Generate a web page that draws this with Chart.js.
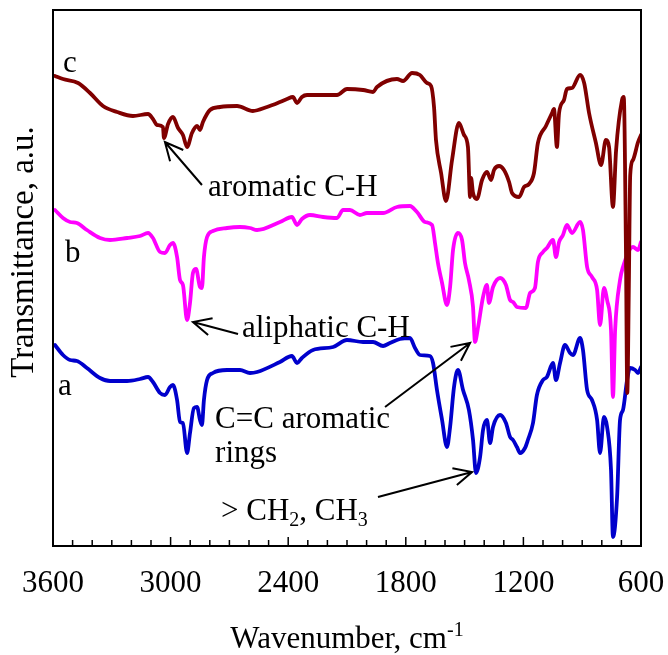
<!DOCTYPE html>
<html>
<head>
<meta charset="utf-8">
<script src="https://cdn.jsdelivr.net/npm/chart.js@4.4.0/dist/chart.umd.min.js"></script>
<style>
  html, body { margin: 0; padding: 0; background: #fff; }
</style>
</head>
<body>
<canvas id="ftir" width="668" height="655"></canvas>
<script>
// FTIR spectra: wavenumber (cm-1) and transmittance (a.u., offset per curve)
const wnC = [3590, 3549, 3472, 3411, 3345, 3273, 3192, 3115, 3090, 3069, 3039, 3034, 3013, 2988, 2962, 2937, 2916, 2891, 2865, 2850,
  2835, 2799, 2748, 2661, 2580, 2508, 2442, 2406, 2376, 2355, 2330, 2304, 2151, 2100, 2018, 1967, 1947, 1845, 1814, 1768,
  1728, 1692, 1671, 1656, 1646, 1620, 1595, 1564, 1529, 1503, 1483, 1472, 1467, 1457, 1437, 1411, 1386, 1365, 1350, 1324,
  1299, 1273, 1258, 1222, 1197, 1171, 1146, 1126, 1085, 1054, 1044, 1029, 1018, 993, 978, 952, 911, 890, 865, 830,
  804, 779, 763, 743, 727, 697, 688, 677, 670, 662, 655, 641, 615, 600];
const tC = [470, 467, 463, 453, 440, 434, 430, 432, 427, 421, 419, 408, 422, 429, 418, 411, 399, 413, 420, 416,
  424, 436, 439, 440, 435, 439, 444, 447, 449, 443, 449, 451, 451, 457, 456, 454, 459, 467, 465, 473,
  471, 463, 460, 439, 406, 373, 345, 386, 423, 411, 399, 349, 368, 353, 347, 366, 374, 366, 376, 380,
  376, 364, 353, 349, 359, 362, 373, 403, 420, 433, 437, 399, 433, 446, 457, 458, 471, 463, 433, 403,
  381, 406, 399, 339, 396, 446, 449, 300, 153, 260, 371, 386, 404, 411];

const wnB = [3590, 3549, 3513, 3478, 3427, 3360, 3309, 3222, 3156, 3115, 3090, 3054, 3029, 3003, 2988, 2967, 2952, 2937, 2916, 2901,
  2886, 2870, 2850, 2840, 2830, 2814, 2784, 2712, 2646, 2595, 2559, 2442, 2381, 2355, 2330, 2289, 2222, 2151, 2120, 2085,
  2034, 1998, 1916, 1845, 1779, 1743, 1702, 1666, 1651, 1636, 1615, 1590, 1574, 1559, 1534, 1513, 1498, 1478, 1457, 1447,
  1432, 1406, 1386, 1376, 1355, 1319, 1289, 1268, 1253, 1233, 1187, 1166, 1141, 1126, 1100, 1080, 1049, 1034, 1018, 998,
  978, 952, 911, 896, 875, 850, 824, 809, 789, 773, 753, 743, 732, 707, 692, 641, 615, 600];
const tB = [336, 328, 324, 323, 316, 308, 306, 308, 310, 313, 308, 294, 293, 301, 303, 289, 266, 261, 226, 243,
  273, 277, 259, 258, 289, 309, 315, 318, 319, 318, 316, 324, 329, 321, 327, 331, 329, 328, 336, 336,
  331, 333, 333, 339, 340, 334, 324, 321, 303, 283, 263, 241, 259, 296, 313, 306, 283, 266, 239, 204,
  218, 249, 261, 243, 259, 268, 261, 246, 244, 239, 238, 253, 258, 284, 294, 298, 306, 289, 304, 311,
  321, 313, 324, 316, 279, 269, 256, 221, 258, 246, 216, 149, 216, 266, 279, 299, 296, 304];

const wnA = [3590, 3549, 3513, 3478, 3427, 3360, 3309, 3222, 3156, 3115, 3090, 3054, 3029, 3003, 2988, 2967, 2952, 2937, 2916, 2901,
  2881, 2865, 2850, 2840, 2830, 2814, 2784, 2712, 2646, 2595, 2559, 2442, 2381, 2355, 2330, 2273, 2171, 2100, 2018, 1967,
  1916, 1881, 1830, 1779, 1753, 1728, 1677, 1661, 1641, 1615, 1590, 1574, 1554, 1534, 1508, 1478, 1457, 1442, 1421, 1406,
  1386, 1370, 1355, 1319, 1289, 1268, 1253, 1233, 1217, 1192, 1177, 1151, 1131, 1100, 1080, 1049, 1034, 1013, 988, 962,
  947, 911, 896, 875, 850, 824, 809, 789, 773, 753, 743, 722, 707, 692, 671, 656, 630, 615, 600];
const tA = [201, 191, 186, 185, 178, 168, 165, 165, 167, 169, 164, 153, 151, 159, 161, 146, 124, 123, 93, 113,
  138, 139, 126, 121, 146, 166, 173, 176, 176, 173, 174, 184, 190, 183, 188, 196, 199, 206, 204, 204,
  200, 203, 207, 208, 198, 191, 190, 183, 156, 126, 99, 119, 159, 176, 156, 136, 106, 73, 89, 116,
  126, 103, 119, 131, 123, 109, 106, 99, 93, 98, 106, 123, 151, 166, 169, 183, 166, 183, 201, 193,
  191, 208, 196, 156, 146, 126, 93, 129, 119, 76, 9, 49, 126, 136, 166, 178, 176, 173, 179];

const xTicks = [3600, 3000, 2400, 1800, 1200, 600];

const FONT = "'Liberation Serif', 'Times New Roman', serif";
const toPoints = (xs, ys) => xs.map((x, i) => ({ x: x, y: ys[i] }));

// annotations in data coordinates (wavenumber, transmittance)
const curveLabels = [
    { text: 'c', x: 3549, y: 474 },
    { text: 'b', x: 3539, y: 284 },
    { text: 'a', x: 3574, y: 151 }
];
const arrows = [
    { from: [2840, 361], to: [3029, 404] },
    { from: [2656, 212], to: [2886, 224] },
    { from: [1906, 139], to: [1472, 203] },
    { from: [1942, 49], to: [1462, 74] }
];

function drawArrow(ctx, x1, y1, x2, y2) {
    const ang = Math.atan2(y2 - y1, x2 - x1);
    const len = 20, spread = 0.45;
    ctx.beginPath();
    ctx.moveTo(x1, y1);
    ctx.lineTo(x2, y2);
    ctx.moveTo(x2 - len * Math.cos(ang - spread), y2 - len * Math.sin(ang - spread));
    ctx.lineTo(x2, y2);
    ctx.lineTo(x2 - len * Math.cos(ang + spread), y2 - len * Math.sin(ang + spread));
    ctx.stroke();
}

// draws pieces like ['> CH', {sub: '2'}, ', CH', {sub: '3'}]
function drawRich(ctx, parts, x, y, size) {
    parts.forEach(p => {
        if (typeof p === 'string') {
            ctx.font = size + 'px ' + FONT;
            ctx.fillText(p, x, y);
            x += ctx.measureText(p).width;
        } else {
            const s = Math.round(size * 0.65);
            ctx.font = s + 'px ' + FONT;
            const dy = p.sub ? size * 0.2 : -size * 0.4;
            const t = p.sub || p.sup;
            ctx.fillText(t, x, y + dy);
            x += ctx.measureText(t).width;
        }
    });
}

function richWidth(ctx, parts, size) {
    let w = 0;
    parts.forEach(p => {
        if (typeof p === 'string') {
            ctx.font = size + 'px ' + FONT;
            w += ctx.measureText(p).width;
        } else {
            ctx.font = Math.round(size * 0.65) + 'px ' + FONT;
            w += ctx.measureText(p.sub || p.sup).width;
        }
    });
    return w;
}

const decorations = {
    id: 'decorations',
    afterDraw(chart) {
        const { ctx, chartArea: area, scales: { x, y } } = chart;
        const px = v => x.getPixelForValue(v);
        const py = v => y.getPixelForValue(v);
        ctx.save();
        ctx.strokeStyle = '#000';
        ctx.fillStyle = '#000';

        // frame
        ctx.lineWidth = 2;
        ctx.strokeRect(area.left, area.top, area.right - area.left, area.bottom - area.top);

        // inward ticks every 100 cm-1
        ctx.lineWidth = 1.5;
        for (let v = 600; v <= 3600; v += 100) {
            const len = v % 600 === 0 ? 9 : 6;
            ctx.beginPath();
            ctx.moveTo(px(v), area.bottom);
            ctx.lineTo(px(v), area.bottom - len);
            ctx.stroke();
        }

        // curve letters
        ctx.textBaseline = 'alphabetic';
        ctx.textAlign = 'left';
        ctx.font = '31px ' + FONT;
        curveLabels.forEach(l => ctx.fillText(l.text, px(l.x), py(l.y)));

        // band assignments
        ctx.fillText('aromatic C-H', px(2809), py(350));
        ctx.fillText('aliphatic C-H', px(2636), py(209));
        ctx.fillText('C=C aromatic', px(2773), py(118));
        ctx.fillText('rings', px(2773), py(84));
        drawRich(ctx, ['> CH', { sub: '2' }, ', CH', { sub: '3' }], px(2743), py(26), 31);

        ctx.lineWidth = 2;
        arrows.forEach(a => drawArrow(ctx, px(a.from[0]), py(a.from[1]), px(a.to[0]), py(a.to[1])));

        // axis titles
        const xTitle = ['Wavenumber, cm', { sup: '-1' }];
        const w = richWidth(ctx, xTitle, 31);
        drawRich(ctx, xTitle, (area.left + area.right) / 2 - w / 2, 648, 31);

        ctx.translate(24, 252);
        ctx.rotate(-Math.PI / 2);
        ctx.textAlign = 'center';
        ctx.textBaseline = 'middle';
        ctx.font = '33px ' + FONT;
        ctx.fillText('Transmittance, a.u.', 0, 0);
        ctx.restore();
    }
};

new Chart(document.getElementById('ftir'), {
    type: 'line',
    data: {
        datasets: [
            { label: 'c', data: toPoints(wnC, tC), borderColor: '#800000' },
            { label: 'b', data: toPoints(wnB, tB), borderColor: '#ff00ff' },
            { label: 'a', data: toPoints(wnA, tA), borderColor: '#0000cc' }
        ]
    },
    options: {
        responsive: false,
        animation: false,
        datasets: {
            line: {
                borderWidth: 3.8,
                pointRadius: 0,
                fill: false,
                cubicInterpolationMode: 'monotone',
                borderJoinStyle: 'round',
                borderCapStyle: 'round'
            }
        },
        layout: { padding: { top: 10, right: 27, left: 0, bottom: 0 } },
        plugins: { legend: { display: false }, tooltip: { enabled: false } },
        scales: {
            x: {
                type: 'linear',
                reverse: true,
                min: 600,
                max: 3600,
                afterBuildTicks: s => { s.ticks = xTicks.map(v => ({ value: v })); },
                afterFit: s => {
                    s.height = 109;
                    s.paddingLeft = 0;
                    s.paddingRight = 0;
                },
                ticks: {
                    font: { family: FONT, size: 31 },
                    color: '#000',
                    padding: 19,
                    maxRotation: 0,
                    autoSkip: false,
                    callback: v => String(v)
                },
                grid: { display: false, drawTicks: false },
                border: { display: false }
            },
            y: {
                min: 0,
                max: 536,
                afterFit: s => { s.width = 53; },
                ticks: { display: false },
                grid: { display: false, drawTicks: false },
                border: { display: false }
            }
        }
    },
    plugins: [decorations]
});
</script>
</body>
</html>
